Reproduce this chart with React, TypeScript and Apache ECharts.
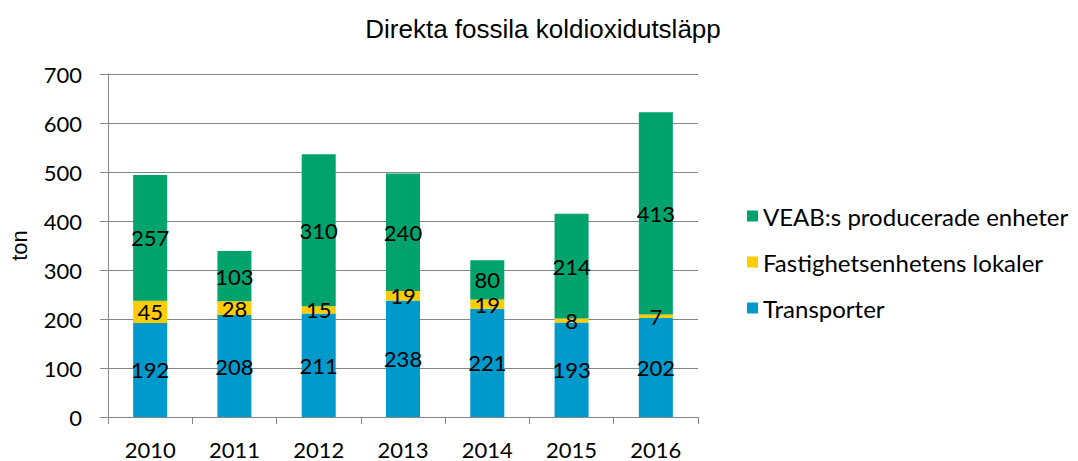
import React, { useEffect, useRef } from "react";
import * as echarts from "echarts";

const years = ["2010", "2011", "2012", "2013", "2014", "2015", "2016"];
const transporter = [192, 208, 211, 238, 221, 193, 202];
const fastighet = [45, 28, 15, 19, 19, 8, 7];
const veab = [257, 103, 310, 240, 80, 214, 413];

const FONT = "Lato, 'Open Sans', sans-serif";
const ARIAL = "'Liberation Sans', Arial, sans-serif";

export default function App() {
  const ref = useRef<HTMLDivElement>(null);
  useEffect(() => {
    const chart = echarts.init(ref.current!, null, { renderer: "svg" });
    const label = {
      show: true,
      position: "inside",
      color: "#000",
      fontSize: 22,
      fontFamily: FONT,
    };
    chart.setOption({
      animation: false,
      title: {
        text: "Direkta fossila koldioxidutsläpp",
        left: 538,
        textAlign: "center",
        top: 11,
        textStyle: { fontFamily: ARIAL, fontSize: 26, fontWeight: "normal", color: "#000" },
      },
      grid: { left: 108, top: 74, right: 380, bottom: 44, containLabel: false, outerBoundsMode: "none" },
      legend: {
        orient: "vertical",
        left: 742,
        top: 199,
        itemWidth: 11,
        itemHeight: 11,
        itemGap: 22,
        data: ["VEAB:s producerade enheter", "Fastighetsenhetens lokaler", "Transporter"],
        textStyle: { fontFamily: FONT, fontSize: 24, color: "#000" },
        icon: "rect",
      },
      xAxis: {
        type: "category",
        data: years,
        axisLine: { lineStyle: { color: "#868686", width: 1 } },
        axisTick: { show: true, length: 7, lineStyle: { color: "#868686" } },
        axisLabel: { fontFamily: FONT, fontSize: 22, lineHeight: 22, color: "#000", margin: 21 },
      },
      yAxis: {
        type: "value",
        min: 0,
        max: 700,
        interval: 100,
        name: "ton",
        nameLocation: "middle",
        nameGap: 78,
        nameTextStyle: { fontFamily: ARIAL, fontSize: 22, color: "#000" },
        axisLine: { show: true, lineStyle: { color: "#868686" } },
        axisTick: { show: true, length: 8, lineStyle: { color: "#868686" } },
        axisLabel: { fontFamily: FONT, fontSize: 22, color: "#000", margin: 26 },
        splitLine: { lineStyle: { color: "#868686", width: 1 } },
      },
      series: [
        { name: "Transporter", type: "bar", stack: "a", data: transporter, barWidth: 34, itemStyle: { color: "#0099CC" }, label },
        { name: "Fastighetsenhetens lokaler", type: "bar", stack: "a", data: fastighet, itemStyle: { color: "#FFCC00" }, label },
        { name: "VEAB:s producerade enheter", type: "bar", stack: "a", data: veab, itemStyle: { color: "#00A36C" }, label },
      ],
    });
    return () => chart.dispose();
  }, []);
  return <div ref={ref} style={{ width: 1078, height: 461, position: "absolute", left: 0, top: 0 }} />;
}
